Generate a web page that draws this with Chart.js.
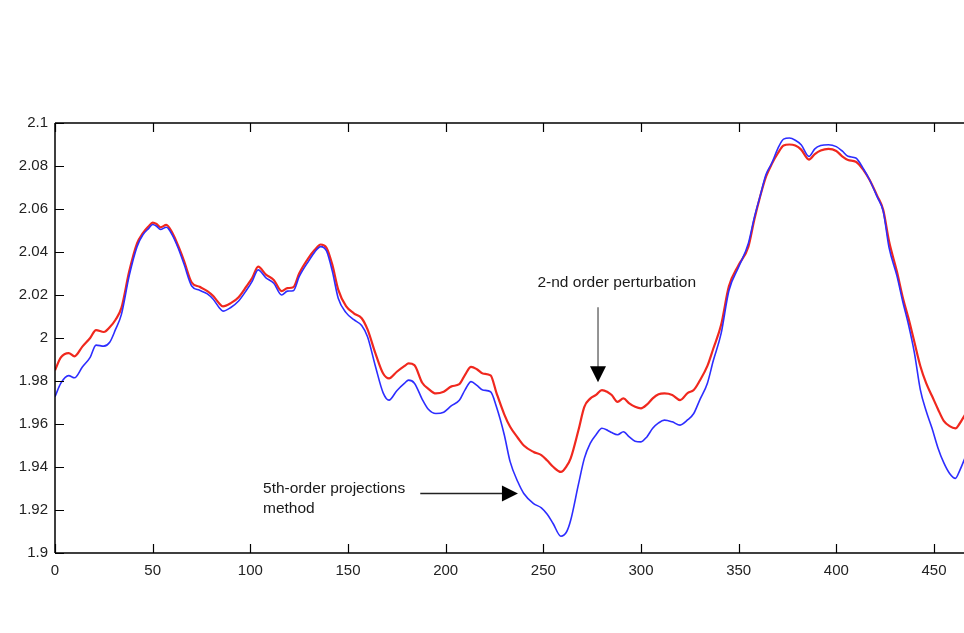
<!DOCTYPE html>
<html>
<head>
<meta charset="utf-8">
<script src="https://cdn.jsdelivr.net/npm/chart.js@4.4.1/dist/chart.umd.min.js"></script>
<style>
html,body{margin:0;padding:0;background:#fff;overflow:hidden;width:964px;height:633px;}
#wrap{position:absolute;left:0;top:0;width:1000px;height:633px;}
</style>
</head>
<body>
<div id="wrap"><canvas id="c" width="1000" height="633"></canvas></div>
<script>
const xs = [0,3,7,10,14,18,21,25,28,31,34,38,42,45,48,50,52,54,57,60,63,66,70,74,78,81,84,86,90,94,98,101,104,108,112,116,119,122,125,130,133,136,139,142,145,149,153,157,160,164,168,171,175,179,181,184,188,191,195,199,203,207,210,213,216,219,223,226,230,233,237,240,245,249,252,255,259,262,264,268,271,274,277,280,283,285,288,291,294,297,300,303,306,309,312,316,320,324,327,330,334,337,341,345,350,355,358,361,364,367,370,373,376,379,382,386,389,392,396,400,403,406,410,414,417,421,424,427,431,434,437,440,443,446,449,452,455,458,461,463,466];

const perturbation2nd = [1.985,1.991,1.993,1.9915,1.996,2.000,2.0037,2.0028,2.005,2.0085,2.014,2.031,2.044,2.0488,2.052,2.0537,2.053,2.0515,2.0526,2.049,2.043,2.036,2.0258,2.0238,2.0218,2.0195,2.0162,2.0147,2.0162,2.019,2.024,2.028,2.0332,2.0295,2.027,2.0218,2.0232,2.0236,2.030,2.0375,2.041,2.0435,2.042,2.034,2.0225,2.0148,2.0115,2.0092,2.004,1.993,1.9835,1.9812,1.9843,1.987,1.9882,1.9874,1.9792,1.9765,1.9742,1.975,1.9775,1.9785,1.983,1.9866,1.9855,1.9835,1.9826,1.9745,1.9645,1.9587,1.9535,1.950,1.947,1.9455,1.943,1.9401,1.9377,1.9405,1.944,1.9572,1.968,1.9718,1.9735,1.9758,1.9748,1.9735,1.9703,1.9719,1.9696,1.968,1.9673,1.969,1.9719,1.9738,1.9742,1.9735,1.9711,1.9745,1.9758,1.980,1.987,1.995,2.006,2.024,2.034,2.0425,2.055,2.0658,2.075,2.081,2.0858,2.0895,2.090,2.0895,2.0876,2.083,2.0855,2.0872,2.088,2.087,2.0845,2.0828,2.082,2.078,2.0736,2.066,2.0596,2.045,2.031,2.019,2.009,1.998,1.987,1.979,1.973,1.967,1.9615,1.959,1.958,1.960,1.9645];

const projections5th = [1.9727,1.979,1.9825,1.9815,1.9865,1.991,1.9967,1.9962,1.998,2.004,2.011,2.029,2.0425,2.048,2.051,2.0528,2.052,2.0505,2.0515,2.048,2.042,2.0345,2.0242,2.0222,2.0205,2.018,2.0142,2.0125,2.0142,2.0172,2.0222,2.0265,2.0317,2.028,2.0255,2.020,2.0218,2.022,2.0285,2.036,2.040,2.0425,2.0405,2.031,2.0185,2.0118,2.0085,2.0058,2.0006,1.987,1.9745,1.9711,1.9755,1.979,1.9804,1.979,1.9715,1.967,1.9649,1.9655,1.9685,1.971,1.976,1.9797,1.978,1.9758,1.975,1.968,1.955,1.9425,1.933,1.9277,1.923,1.921,1.918,1.9137,1.9078,1.910,1.9152,1.932,1.944,1.951,1.955,1.958,1.957,1.956,1.955,1.9564,1.954,1.952,1.9517,1.954,1.958,1.9605,1.9618,1.961,1.9595,1.962,1.9649,1.971,1.979,1.9894,2.002,2.022,2.033,2.0441,2.056,2.066,2.076,2.0814,2.088,2.0925,2.093,2.092,2.0899,2.0845,2.088,2.0895,2.0899,2.089,2.087,2.0845,2.0837,2.0785,2.0736,2.0655,2.059,2.042,2.029,2.017,2.006,1.993,1.976,1.966,1.958,1.949,1.942,1.937,1.9347,1.938,1.9445];

const xTicks = [0,50,100,150,200,250,300,350,400,450];
const yTicks = [1.9,1.92,1.94,1.96,1.98,2,2.02,2.04,2.06,2.08,2.1];
const xRange = [0, 483.8];
const yRange = [1.9, 2.1];

const labelPerturb = {text:'2-nd order perturbation', x:247, y:2.0256};
const arrowPerturb = {x:278, yFrom:2.0143, yTo:1.9794};
const labelProj = {lines:['5th-order projections','method'], x:106.5, y:1.9297};
const arrowProj = {y:1.9277, xFrom:187, xTo:237};

const toPts = (arr) => arr.map((v,i)=>({x:xs[i], y:v}));

const FAMILY = '"Liberation Sans", Arial, sans-serif';
const FONT = '15.5px ' + FAMILY;

const framePlugin = {
  id:'frame',
  afterDatasetsDraw(chart){
    const {ctx, chartArea:a, scales:{x, y}} = chart;
    ctx.save();
    ctx.strokeStyle = '#000';
    ctx.lineWidth = 1.5;
    ctx.beginPath();
    ctx.moveTo(a.left, a.top); ctx.lineTo(a.right, a.top);
    ctx.moveTo(a.left, a.bottom); ctx.lineTo(a.right, a.bottom);
    ctx.moveTo(a.left, a.top); ctx.lineTo(a.left, a.bottom);
    ctx.stroke();
    ctx.lineWidth = 1.2;
    ctx.beginPath();
    xTicks.forEach(t=>{
      const px = Math.round(x.getPixelForValue(t))+0.5;
      ctx.moveTo(px, a.bottom); ctx.lineTo(px, a.bottom-9);
      ctx.moveTo(px, a.top); ctx.lineTo(px, a.top+9);
    });
    yTicks.forEach(t=>{
      const py = Math.round(y.getPixelForValue(t))+0.5;
      ctx.moveTo(a.left, py); ctx.lineTo(a.left+9, py);
    });
    ctx.stroke();

    // annotations
    ctx.fillStyle = '#1a1a1a';
    ctx.font = FONT;
    ctx.textBaseline = 'middle';
    ctx.textAlign = 'left';
    ctx.fillText(labelPerturb.text, x.getPixelForValue(labelPerturb.x), y.getPixelForValue(labelPerturb.y));
    const ly = y.getPixelForValue(labelProj.y);
    ctx.fillText(labelProj.lines[0], x.getPixelForValue(labelProj.x), ly);
    ctx.fillText(labelProj.lines[1], x.getPixelForValue(labelProj.x), ly+19.5);

    // vertical arrow
    const ax = x.getPixelForValue(arrowPerturb.x);
    const ay0 = y.getPixelForValue(arrowPerturb.yFrom), ay1 = y.getPixelForValue(arrowPerturb.yTo);
    ctx.strokeStyle = '#666'; ctx.lineWidth = 1.4;
    ctx.beginPath(); ctx.moveTo(ax, ay0); ctx.lineTo(ax, ay1-14); ctx.stroke();
    ctx.fillStyle = '#000';
    ctx.beginPath(); ctx.moveTo(ax-8, ay1-16); ctx.lineTo(ax+8, ay1-16); ctx.lineTo(ax, ay1); ctx.closePath(); ctx.fill();

    // horizontal arrow
    const hy = y.getPixelForValue(arrowProj.y);
    const hx0 = x.getPixelForValue(arrowProj.xFrom), hx1 = x.getPixelForValue(arrowProj.xTo);
    ctx.strokeStyle = '#222'; ctx.lineWidth = 1.4;
    ctx.beginPath(); ctx.moveTo(hx0, hy); ctx.lineTo(hx1-14, hy); ctx.stroke();
    ctx.beginPath(); ctx.moveTo(hx1-16, hy-8); ctx.lineTo(hx1-16, hy+8); ctx.lineTo(hx1, hy); ctx.closePath(); ctx.fill();
    ctx.restore();
  }
};

new Chart(document.getElementById('c'), {
  type:'line',
  data:{
    datasets:[
      {label:'5th-order projections method', data:toPts(projections5th), borderColor:'rgb(45,45,255)', borderWidth:1.6, pointRadius:0, tension:0, cubicInterpolationMode:'monotone', fill:false},
      {label:'2-nd order perturbation', data:toPts(perturbation2nd), borderColor:'rgb(240,40,30)', borderWidth:2.2, pointRadius:0, tension:0, cubicInterpolationMode:'monotone', fill:false}
    ]
  },
  options:{
    responsive:false, animation:false,
    layout:{padding:{top:123, left:0, right:0, bottom:0}},
    plugins:{legend:{display:false}, tooltip:{enabled:false}},
    scales:{
      x:{type:'linear', min:xRange[0], max:xRange[1],
        afterFit(s){ s.height = 80; },
        afterBuildTicks(s){ s.ticks = xTicks.map(v=>({value:v})); },
        grid:{display:false, drawTicks:false}, border:{display:false},
        ticks:{padding:9, color:'#222', font:{family:FAMILY, size:15}, maxRotation:0, autoSkip:false, callback:v=>String(v)}
      },
      y:{type:'linear', min:yRange[0], max:yRange[1],
        afterFit(s){ s.width = 55; },
        afterBuildTicks(s){ s.ticks = yTicks.map(v=>({value:v})); },
        grid:{display:false, drawTicks:false}, border:{display:false},
        ticks:{padding:7, color:'#222', font:{family:FAMILY, size:15}, autoSkip:false, callback:v=>String(parseFloat(Number(v).toFixed(2)))}
      }
    }
  },
  plugins:[framePlugin]
});
</script>
</body>
</html>
